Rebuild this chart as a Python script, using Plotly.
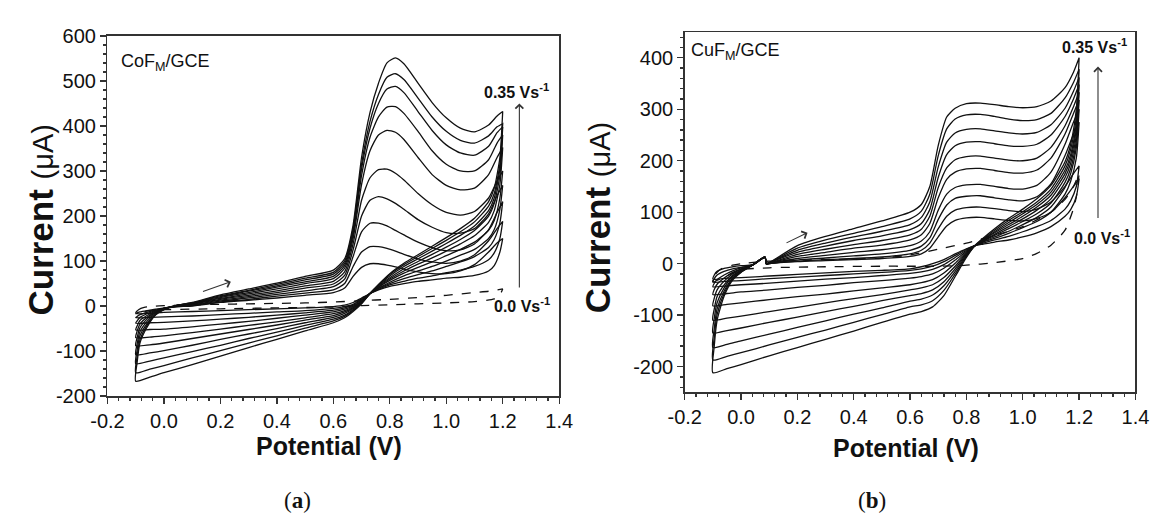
import plotly.graph_objects as go

# ---------------- Panel (a): CoF_M/GCE ----------------
A_V_FWD = [-0.10, -0.095, -0.085, -0.06, -0.03, 0.00, 0.05, 0.10, 0.20, 0.30, 0.40, 0.50, 0.60,
           0.64, 0.67, 0.70, 0.73, 0.76, 0.79, 0.82, 0.85, 0.90, 0.95, 1.00, 1.05, 1.10, 1.15, 1.18, 1.20]
A_V_REV = [1.20, 1.19, 1.17, 1.15, 1.10, 1.05, 1.00, 0.95, 0.90, 0.85, 0.80, 0.76, 0.73, 0.70, 0.67,
           0.64, 0.60, 0.50, 0.40, 0.30, 0.20, 0.10, 0.00, -0.05, -0.10]

A10_FWD = [-167, -125, -82, -47, -20, -8, 2, 8, 25, 38, 51, 66, 80, 105, 180, 330, 430, 495, 540, 551, 538, 495, 452, 418, 395, 387, 402, 422, 432]
A9_FWD = [-148, -112, -75, -43, -19, -8, 2, 7, 23, 35, 48, 62, 75, 100, 172, 315, 410, 470, 508, 516, 503, 462, 420, 388, 368, 362, 378, 398, 405]
A8_FWD = [-128, -98, -66, -39, -18, -7, 2, 7, 21, 33, 45, 58, 71, 95, 165, 305, 395, 450, 482, 488, 474, 432, 390, 358, 340, 335, 355, 385, 398]
A7_FWD = [-108, -84, -57, -34, -16, -6, 2, 6, 19, 30, 42, 54, 66, 90, 158, 290, 375, 420, 442, 443, 428, 388, 345, 315, 300, 300, 325, 362, 380]
A6_FWD = [-88, -70, -48, -29, -14, -6, 1, 5, 17, 27, 38, 50, 61, 84, 150, 270, 345, 380, 390, 386, 370, 330, 292, 268, 258, 262, 292, 330, 352]
A5_FWD = [-70, -56, -40, -25, -13, -5, 1, 4, 15, 24, 34, 45, 55, 76, 138, 235, 285, 303, 304, 295, 280, 250, 225, 208, 202, 210, 240, 278, 300]
A4_FWD = [-53, -44, -32, -21, -11, -5, 0, 3, 13, 21, 30, 40, 49, 68, 125, 200, 235, 243, 238, 228, 215, 192, 175, 163, 162, 172, 205, 245, 268]
A3_FWD = [-38, -33, -25, -17, -10, -5, 0, 2, 11, 18, 26, 34, 43, 60, 110, 165, 184, 184, 178, 168, 158, 142, 130, 123, 125, 138, 170, 208, 232]
A2_FWD = [-26, -23, -19, -14, -9, -5, -1, 1, 9, 15, 22, 29, 36, 50, 88, 120, 132, 132, 128, 122, 115, 105, 98, 95, 100, 114, 145, 172, 188]
A1_FWD = [-17, -15, -13, -10, -7, -4, -1, 0, 8, 13, 18, 24, 30, 40, 66, 86, 94, 94, 91, 87, 82, 76, 72, 72, 78, 92, 120, 140, 150]

A10_REV = [432, 330, 262, 232, 195, 172, 152, 133, 114, 95, 72, 48, 28, 5, -12, -26, -37, -55, -74, -92, -111, -130, -148, -158, -167]
A9_REV = [405, 315, 250, 222, 187, 165, 146, 128, 110, 92, 70, 47, 28, 6, -10, -23, -33, -49, -66, -82, -99, -115, -132, -140, -148]
A8_REV = [398, 305, 240, 212, 178, 157, 139, 122, 105, 88, 67, 46, 28, 7, -8, -20, -29, -43, -58, -72, -87, -101, -115, -122, -128]
A7_REV = [380, 290, 228, 200, 168, 148, 131, 115, 99, 83, 63, 45, 28, 8, -6, -16, -25, -37, -50, -62, -74, -87, -99, -104, -108]
A6_REV = [352, 270, 212, 186, 156, 138, 122, 107, 93, 78, 60, 43, 28, 9, -4, -13, -21, -31, -42, -52, -62, -72, -82, -86, -88]
A5_REV = [300, 240, 190, 168, 142, 126, 112, 98, 86, 73, 57, 42, 28, 11, -2, -10, -17, -26, -35, -43, -51, -59, -66, -69, -70]
A4_REV = [268, 215, 170, 150, 126, 113, 100, 88, 78, 67, 53, 40, 28, 12, 0, -7, -13, -20, -27, -34, -40, -46, -51, -52, -53]
A3_REV = [232, 185, 148, 130, 110, 98, 88, 78, 70, 61, 50, 39, 28, 14, 2, -4, -9, -15, -20, -25, -29, -33, -36, -37, -38]
A2_REV = [188, 150, 118, 103, 88, 80, 74, 67, 62, 55, 47, 37, 28, 16, 4, -1, -5, -10, -13, -16, -19, -22, -24, -25, -26]
A1_REV = [150, 120, 90, 78, 68, 64, 62, 58, 55, 50, 44, 36, 28, 18, 8, 2, -1, -4, -6, -8, -10, -12, -14, -16, -17]

# blank (0.0 V/s, dashed)
A0_V_FWD = [-0.10, -0.09, -0.07, -0.03, 0.00, 0.10, 0.20, 0.30, 0.40, 0.50, 0.60, 0.70, 0.80, 0.90, 1.00, 1.10, 1.15, 1.20]
A0_FWD = [-15, -8, -3, 0, 1, 3, 4, 5, 6, 7, 9, 12, 15, 19, 24, 30, 33, 38]
A0_V_REV = [1.20, 1.19, 1.17, 1.10, 1.00, 0.90, 0.80, 0.70, 0.60, 0.40, 0.20, 0.00, -0.05, -0.10]
A0_REV = [38, 25, 16, 10, 7, 5, 3, 1, -2, -4, -6, -8, -10, -15]

# ---------------- Panel (b): CuF_M/GCE ----------------
B_V_FWD = [-0.10, -0.095, -0.085, -0.06, -0.03, 0.00, 0.04, 0.085, 0.09, 0.10, 0.20, 0.30, 0.40, 0.50, 0.60,
           0.64, 0.67, 0.70, 0.73, 0.76, 0.80, 0.85, 0.90, 0.95, 1.00, 1.05, 1.10, 1.15, 1.18, 1.20]
B_V_REV = [1.20, 1.19, 1.17, 1.15, 1.10, 1.05, 1.00, 0.95, 0.90, 0.86, 0.83, 0.80, 0.76, 0.72, 0.68,
           0.64, 0.60, 0.50, 0.40, 0.30, 0.20, 0.10, 0.00, -0.05, -0.10]

B10_FWD = [-212, -160, -110, -63, -32, -17, -3, 13, 0, 2, 35, 53, 68, 83, 100, 115, 150, 230, 285, 302, 311, 312, 309, 305, 303, 305, 316, 342, 372, 400]
B9_FWD = [-187, -143, -99, -58, -30, -16, -3, 13, 0, 2, 30, 46, 59, 72, 87, 102, 135, 210, 262, 281, 289, 290, 286, 281, 278, 280, 292, 322, 352, 378]
B8_FWD = [-163, -126, -88, -53, -28, -15, -3, 13, 0, 2, 26, 40, 52, 63, 76, 90, 120, 188, 236, 254, 261, 262, 258, 254, 252, 255, 270, 302, 335, 362]
B7_FWD = [-135, -106, -76, -47, -25, -14, -3, 13, 0, 2, 22, 34, 45, 54, 66, 78, 105, 168, 212, 229, 236, 237, 233, 229, 228, 232, 250, 286, 320, 348]
B6_FWD = [-110, -88, -64, -41, -23, -13, -3, 13, 0, 1, 18, 28, 37, 45, 56, 67, 92, 148, 186, 202, 208, 209, 205, 201, 200, 205, 226, 268, 305, 333]
B5_FWD = [-82, -67, -51, -34, -20, -11, -3, 12, 0, 1, 14, 22, 30, 36, 46, 56, 78, 128, 164, 178, 184, 185, 181, 177, 176, 182, 205, 252, 292, 318]
B4_FWD = [-60, -50, -40, -28, -17, -10, -3, 12, 0, 1, 10, 16, 22, 27, 35, 44, 62, 104, 135, 148, 153, 154, 150, 146, 145, 152, 178, 232, 275, 300]
B3_FWD = [-45, -38, -31, -22, -14, -8, -3, 12, -1, 0, 7, 11, 15, 19, 26, 34, 50, 86, 114, 127, 131, 132, 128, 124, 122, 130, 155, 210, 252, 275]
B2_FWD = [-36, -29, -22, -15, -10, -7, -3, 12, -1, 0, 5, 8, 10, 13, 19, 26, 40, 68, 92, 104, 109, 110, 107, 103, 101, 106, 120, 150, 175, 190]
B1_FWD = [-30, -22, -15, -9, -6, -4, -2, 12, -1, 0, 4, 6, 8, 10, 14, 19, 30, 52, 73, 84, 89, 90, 87, 84, 83, 88, 100, 128, 150, 165]

B10_REV = [400, 300, 232, 198, 152, 126, 106, 88, 68, 50, 35, 12, -25, -62, -84, -93, -98, -114, -131, -147, -163, -179, -196, -204, -212]
B9_REV = [378, 285, 222, 190, 145, 120, 101, 84, 65, 48, 35, 14, -20, -52, -72, -80, -84, -99, -114, -129, -143, -158, -173, -180, -187]
B8_REV = [362, 272, 212, 182, 139, 115, 97, 80, 62, 47, 35, 16, -15, -43, -61, -69, -73, -86, -98, -111, -124, -137, -150, -157, -163]
B7_REV = [348, 262, 204, 175, 133, 110, 92, 76, 60, 46, 35, 18, -10, -35, -51, -58, -62, -72, -83, -93, -104, -114, -125, -130, -135]
B6_REV = [333, 250, 195, 167, 126, 104, 87, 72, 57, 45, 35, 20, -5, -27, -41, -47, -51, -60, -68, -76, -85, -93, -102, -106, -110]
B5_REV = [318, 238, 185, 158, 118, 97, 82, 68, 55, 44, 35, 22, 1, -18, -31, -37, -41, -47, -53, -59, -64, -70, -76, -79, -82]
B4_REV = [300, 225, 175, 148, 110, 90, 76, 63, 52, 43, 35, 24, 7, -9, -20, -25, -28, -33, -37, -42, -46, -51, -55, -58, -60]
B3_REV = [275, 205, 160, 135, 100, 82, 70, 59, 49, 42, 35, 26, 12, -2, -11, -16, -19, -23, -27, -30, -34, -38, -41, -43, -45]
B2_REV = [190, 150, 122, 106, 84, 72, 62, 53, 46, 40, 35, 28, 16, 4, -5, -10, -13, -17, -20, -23, -26, -29, -33, -34, -36]
B1_REV = [165, 130, 105, 92, 72, 60, 52, 46, 42, 38, 35, 29, 19, 8, 0, -6, -10, -13, -15, -18, -21, -24, -27, -28, -30]

B0_V_FWD = [-0.10, -0.09, -0.07, -0.03, 0.00, 0.10, 0.20, 0.30, 0.40, 0.50, 0.60, 0.70, 0.80, 0.90, 1.00, 1.05, 1.10, 1.15, 1.18, 1.20]
B0_FWD = [-35, -20, -10, -3, 0, 5, 7, 8, 9, 11, 17, 28, 40, 55, 72, 85, 100, 125, 150, 175]
B0_V_REV = [1.20, 1.19, 1.18, 1.15, 1.10, 1.05, 1.00, 0.90, 0.80, 0.70, 0.60, 0.50, 0.30, 0.10, 0.00, -0.10]
B0_REV = [175, 130, 107, 65, 36, 20, 10, 2, -3, -5, -5, -5, -6, -8, -12, -35]

# ticks
X_TICKS = [-0.2, 0.0, 0.2, 0.4, 0.6, 0.8, 1.0, 1.2, 1.4]
X_TICK_TEXT = ["-0.2", "0.0", "0.2", "0.4", "0.6", "0.8", "1.0", "1.2", "1.4"]
A_Y_TICKS = [-200, -100, 0, 100, 200, 300, 400, 500, 600]
A_Y_TICK_TEXT = ["-200", "-100", "0", "100", "200", "300", "400", "500", "600"]
B_Y_TICKS = [-200, -100, 0, 100, 200, 300, 400]
B_Y_TICK_TEXT = ["-200", "-100", "0", "100", "200", "300", "400"]

A_SOLID = [(A1_FWD, A1_REV), (A2_FWD, A2_REV), (A3_FWD, A3_REV), (A4_FWD, A4_REV), (A5_FWD, A5_REV),
           (A6_FWD, A6_REV), (A7_FWD, A7_REV), (A8_FWD, A8_REV), (A9_FWD, A9_REV), (A10_FWD, A10_REV)]
B_SOLID = [(B1_FWD, B1_REV), (B2_FWD, B2_REV), (B3_FWD, B3_REV), (B4_FWD, B4_REV), (B5_FWD, B5_REV),
           (B6_FWD, B6_REV), (B7_FWD, B7_REV), (B8_FWD, B8_REV), (B9_FWD, B9_REV), (B10_FWD, B10_REV)]

FONT = "Liberation Sans, Arial, sans-serif"
INK = "#111111"

fig = go.Figure()


def add_cv(xs, ys, xa, ya, dash="solid"):
    fig.add_trace(go.Scatter(
        x=xs, y=ys, xaxis=xa, yaxis=ya, mode="lines",
        line=dict(color=INK, width=1.3, dash=dash, shape="spline", smoothing=0.6),
        hoverinfo="skip", showlegend=False))


for fwd, rev in A_SOLID:
    add_cv(A_V_FWD + A_V_REV, fwd + rev, "x", "y")
add_cv(A0_V_FWD + A0_V_REV, A0_FWD + A0_REV, "x", "y", dash="dash")

for fwd, rev in B_SOLID:
    add_cv(B_V_FWD + B_V_REV, fwd + rev, "x2", "y2")
add_cv(B0_V_FWD + B0_V_REV, B0_FWD + B0_REV, "x2", "y2", dash="dash")

axis_common = dict(
    showgrid=False, zeroline=False, showline=True, linecolor="#333333", linewidth=1.5,
    mirror=True, ticks="outside", ticklen=6, tickwidth=1.3, tickcolor="#333333",
    tickfont=dict(family=FONT, size=20, color=INK),
)

fig.update_layout(
    width=1165, height=525,
    margin=dict(l=0, r=0, t=0, b=0),
    paper_bgcolor="white", plot_bgcolor="white",
    showlegend=False,
    hovermode=False,
    xaxis=dict(domain=[0.0798, 0.4781], range=[-0.2, 1.4], anchor="y",
               tickvals=X_TICKS, ticktext=X_TICK_TEXT,
               minor=dict(dtick=0.04, tick0=-0.2, ticks="outside", ticklen=3, tickcolor="#333333"),
               **axis_common),
    yaxis=dict(domain=[0.2343, 0.9505], range=[-200, 600], anchor="x",
               tickvals=A_Y_TICKS, ticktext=A_Y_TICK_TEXT,
               minor=dict(dtick=20, tick0=0, ticks="outside", ticklen=3, tickcolor="#333333"),
               **axis_common),
    xaxis2=dict(domain=[0.5888, 0.9863], range=[-0.2, 1.4], anchor="y2",
                tickvals=X_TICKS, ticktext=X_TICK_TEXT,
                minor=dict(dtick=0.04, tick0=-0.2, ticks="outside", ticklen=3, tickcolor="#333333"),
                **axis_common),
    yaxis2=dict(domain=[0.2419, 0.9581], range=[-250, 450], anchor="x2",
                tickvals=B_Y_TICKS, ticktext=B_Y_TICK_TEXT,
                minor=dict(dtick=20, tick0=0, ticks="outside", ticklen=3, tickcolor="#333333"),
                **axis_common),
)

ann = []


def txt(x, y, s, size=16, family=FONT, angle=0):
    ann.append(dict(x=x, y=y, xref="paper", yref="paper", text=s, showarrow=False,
                    font=dict(family=family, size=size, color=INK), textangle=angle,
                    xanchor="center", yanchor="middle"))


# axis titles
txt(0.2747, 0.136, "<b>Potential (V)</b>", size=25)
txt(0.7837, 0.131, "<b>Potential (V)</b>", size=25)
Y_TITLE = "<b>Current</b> <span style='font-size:29px'>(μA)</span>"
txt(0.021, 0.585, Y_TITLE, size=35, angle=-90)
txt(0.5115, 0.59, Y_TITLE, size=35, angle=-90)

# panel labels
txt(0.1313, 0.897, "CoF<sub>M</sub>/GCE", size=18)
txt(0.6335, 0.920, "CuF<sub>M</sub>/GCE", size=18)
txt(0.4403, 0.840, "<b>0.35 Vs<sup>-1</sup></b>", size=16)
txt(0.4455, 0.4158, "<b>0.0 Vs<sup>-1</sup></b>", size=16)
txt(0.9502, 0.9314, "<b>0.35 Vs<sup>-1</sup></b>", size=16)
txt(0.957, 0.5505, "<b>0.0 Vs<sup>-1</sup></b>", size=16)

# captions
txt(0.2472, 0.026, "(<b>a</b>)", size=23, family="Liberation Serif, serif")
txt(0.7536, 0.026, "(<b>b</b>)", size=23, family="Liberation Serif, serif")


def arrow(xr, yr, x0, y0, x1, y1):
    ann.append(dict(x=x1, y=y1, ax=x0, ay=y0, xref=xr, yref=yr, axref=xr, ayref=yr,
                    text="", showarrow=True, arrowhead=4, arrowsize=1.4, arrowwidth=1.1,
                    arrowcolor="#333333"))


arrow("x", "y", 1.259, 38, 1.259, 450)
arrow("x2", "y2", 1.267, 86, 1.267, 383)
arrow("x", "y", 0.133, 31, 0.237, 54)
arrow("x2", "y2", 0.156, 39, 0.236, 60)

fig.update_layout(annotations=ann)
fig.write_html("out.html", config={"displayModeBar": False, "staticPlot": True},
               post_script="document.body.style.margin='0px';")
